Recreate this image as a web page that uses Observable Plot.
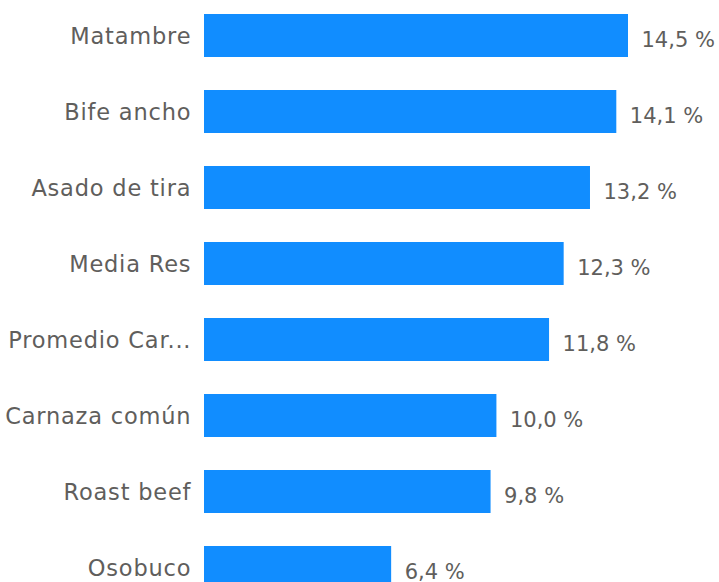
<!DOCTYPE html>
<html>
<head>
<meta charset="utf-8">
<script src="https://cdn.jsdelivr.net/npm/d3@7"></script>
<script src="https://cdn.jsdelivr.net/npm/@observablehq/plot@0.6"></script>
<style>
  html, body { margin: 0; padding: 0; background: #fff; overflow: hidden; }
  #chart { width: 719px; height: 582px; overflow: hidden; }
</style>
</head>
<body>
<div id="chart"></div>
<script>
const categories = ["Matambre", "Bife ancho", "Asado de tira", "Media Res", "Promedio Car...", "Carnaza común", "Roast beef", "Osobuco"];
const values = [14.5, 14.1, 13.2, 12.3, 11.8, 10.0, 9.8, 6.4];

const data = categories.map((c, i) => ({ category: c, value: values[i] }));
const fmt = v => v.toFixed(1).replace(".", ",") + " %";
const font = "'DejaVu Sans', 'Segoe UI', sans-serif";

const chart = Plot.plot({
  width: 719,
  height: 582,
  marginLeft: 204,
  marginRight: 91,
  marginTop: 0,
  marginBottom: 0,
  style: { fontFamily: font, background: "#fff", overflow: "hidden" },
  x: { domain: [0, 14.5], axis: null },
  y: { domain: categories, range: [-2.5, 605.5], paddingInner: 0.434, paddingOuter: 0.217, axis: null },
  marks: [
    Plot.barX(data, { y: "category", x: "value", fill: "#118DFF" }),
    Plot.text(data, {
      y: "category", x: 0, text: "category", textAnchor: "end", dx: -13.2, dy: 1,
      fill: "#605E5C", fontSize: 22.5
    }),
    Plot.text(data, {
      y: "category", x: "value", text: d => fmt(d.value), textAnchor: "start", dx: 13, dy: 4,
      fill: "#605E5C", fontSize: 21
    })
  ]
});
const groups = d3.select(chart).selectAll('g[aria-label="text"]').nodes();
if (groups[0]) groups[0].style.letterSpacing = "0.8px";
document.getElementById("chart").appendChild(chart);
</script>
</body>
</html>
